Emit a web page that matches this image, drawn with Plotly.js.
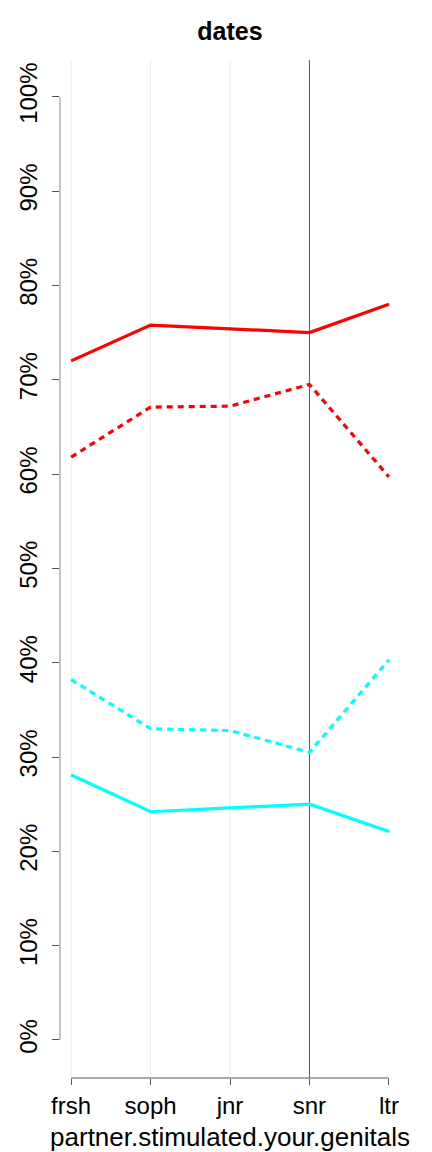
<!DOCTYPE html>
<html><head><meta charset="utf-8">
<script src="https://cdn.plot.ly/plotly-3.0.1.min.js"></script>
<style>body{margin:0;background:#fff}</style>
</head><body>
<div id="chart" style="width:432px;height:1152px"></div>
<script>
const categories = ["frsh", "soph", "jnr", "snr", "ltr"];
const redSolid = [72.0, 75.8, 75.4, 75.0, 78.0];
const redDotted = [61.8, 67.1, 67.2, 69.5, 59.7];
const cyanDotted = [38.2, 33.0, 32.8, 30.5, 40.3];
const cyanSolid = [28.1, 24.2, 24.6, 25.0, 22.1];
const yTicks = [0, 10, 20, 30, 40, 50, 60, 70, 80, 90, 100];
const yTickText = yTicks.map(v => v + "%");
const gridCats = ["frsh", "soph", "jnr"];
const markerCat = "snr";

function tr(y, color, dash) {
  return {x: categories, y: y, type: "scatter", mode: "lines",
    line: {color: color, width: 3.2, dash: dash}, showlegend: false, hoverinfo: "skip"};
}
const data = [
  tr(redSolid, "#ff0000", "solid"),
  tr(redDotted, "#ff0000", "6px,5px"),
  tr(cyanDotted, "#00ffff", "6px,5px"),
  tr(cyanSolid, "#00ffff", "solid")
];
const shapes = [];
gridCats.forEach(c => shapes.push({type: "line", xref: "x", yref: "paper", x0: c, x1: c, y0: 0, y1: 1,
  line: {color: "#efecdf", width: 1}, layer: "below"}));
shapes.push({type: "line", xref: "x", yref: "paper", x0: markerCat, x1: markerCat, y0: 0, y1: 1,
  line: {color: "#555555", width: 1}, layer: "below"});
shapes.push({type: "line", xref: "paper", yref: "y", x0: 0, x1: 0, y0: yTicks[0], y1: yTicks[yTicks.length-1],
  line: {color: "#888888", width: 1}});
shapes.push({type: "line", xref: "x", yref: "paper", x0: categories[0], x1: categories[categories.length-1], y0: 0, y1: 0,
  line: {color: "#555555", width: 1}});

const layout = {
  width: 432, height: 1152,
  margin: {l: 60, r: 32, t: 60, b: 74},
  paper_bgcolor: "#fff", plot_bgcolor: "#fff",
  font: {family: "Liberation Sans, Arial, sans-serif", color: "#000"},
  title: {text: "<b>dates</b>", x: 230/432, xanchor: "center", y: 1 - 31/1152, yanchor: "middle",
    font: {size: 25, color: "#000"}},
  xaxis: {type: "category", range: [-0.14, 4.14], showgrid: false, zeroline: false, showline: false,
    ticks: "outside", ticklen: 6, tickcolor: "#555", tickfont: {size: 24},
    title: {text: "partner.stimulated.your.genitals", font: {size: 26}, standoff: 13}},
  yaxis: {range: [-4.03, 103.9], tickvals: yTicks, ticktext: yTickText, tickangle: -90,
    showgrid: false, zeroline: false, showline: false, ticks: "outside", ticklen: 7, tickcolor: "#555",
    tickfont: {size: 24}, ticklabelstandoff: 5},
  shapes: shapes
};
Plotly.newPlot("chart", data, layout, {displayModeBar: false, staticPlot: true});
</script>
</body></html>
